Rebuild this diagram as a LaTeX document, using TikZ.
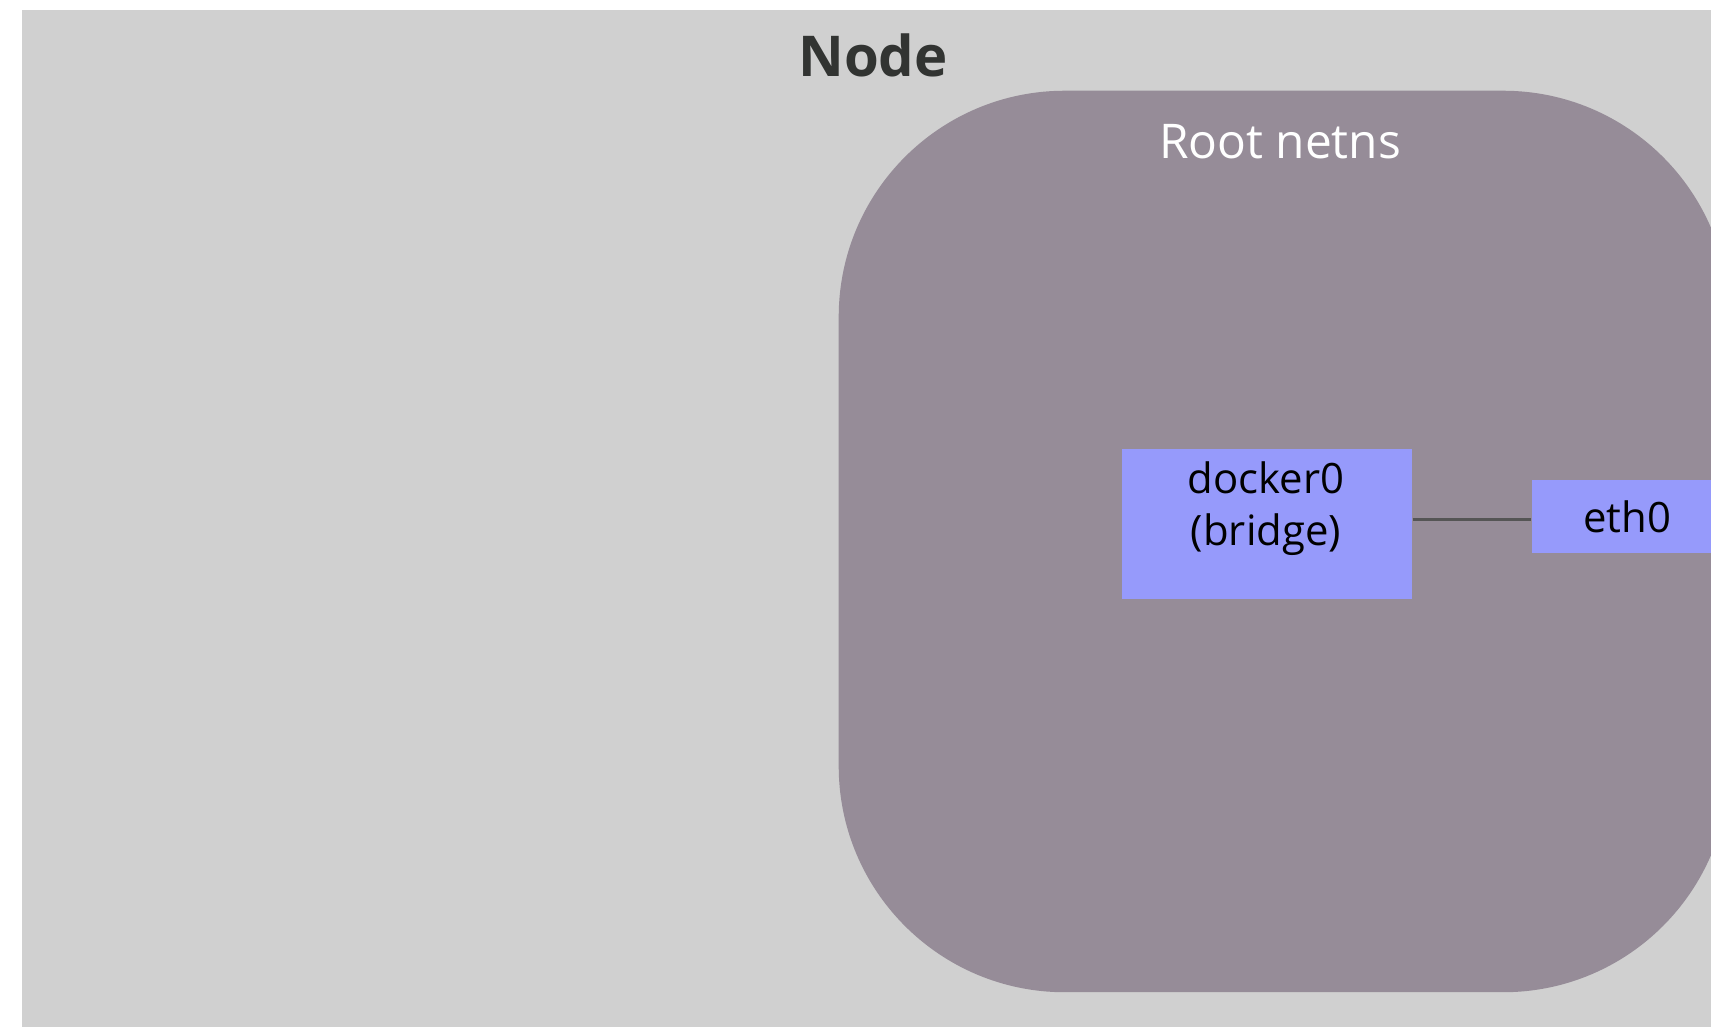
\documentclass[tikz,border=0pt]{standalone}
\usepackage{fontspec}
\setmainfont{Open Sans}
\usepackage{tikz}
\usetikzlibrary{positioning}
\definecolor{hostgray}{RGB}{208,208,208}
\definecolor{nsgray}{RGB}{150,140,152}
\definecolor{ifblue}{RGB}{150,154,251}
\definecolor{titlegray}{RGB}{50,52,50}
\definecolor{linkgray}{RGB}{85,85,85}
\tikzset{
  host/.style={rectangle, fill=hostgray, inner sep=0pt, anchor=north west},
  netns/.style={rectangle, rounded corners=2.26cm, fill=nsgray, inner sep=0pt, anchor=north west},
  iface/.style={rectangle, fill=ifblue, inner sep=0pt},
  hostlbl/.style={font=\fontsize{16}{19}\selectfont\bfseries, text=titlegray},
  nslbl/.style={font=\fontsize{13.6}{16}\selectfont, text=white},
  iflbl/.style={font=\fontsize{11.9}{15}\selectfont, text=black, align=center},
  link/.style={draw=linkgray, line width=0.6pt}
}

\begin{document}
\begin{tikzpicture}[x=0.01cm, y=-0.01cm]
  \useasboundingbox (0,0) rectangle (1711,1026);
  \clip (0,0) rectangle (1711,1026);

  % Node (host)
  \node[host, minimum width=17.2cm, minimum height=10.4cm] (host) at (21,9) {};
  \node[hostlbl] (hosttitle) at (873,55) {Node};

  % Root network namespace
  \node[netns, minimum width=8.9cm, minimum height=9.01cm] (root) at (838,90) {};
  \node[nslbl] (roottitle) at (1280,142) {Root netns};

  % Interfaces
  \node[iface, minimum width=2.9cm, minimum height=1.5cm, anchor=north west] (docker) at (1121,448) {};
  \node[iflbl] (dockerlbl) at (1266,508.5) {docker0\\(bridge)};
  \node[iface, iflbl, minimum width=1.9cm, minimum height=0.73cm] (eth) at (1627,516.5) {eth0};

  \draw[link] ([yshift=-0.85pt]docker.east |- eth.west) -- ([yshift=-0.85pt]eth.west);
\end{tikzpicture}
\end{document}
